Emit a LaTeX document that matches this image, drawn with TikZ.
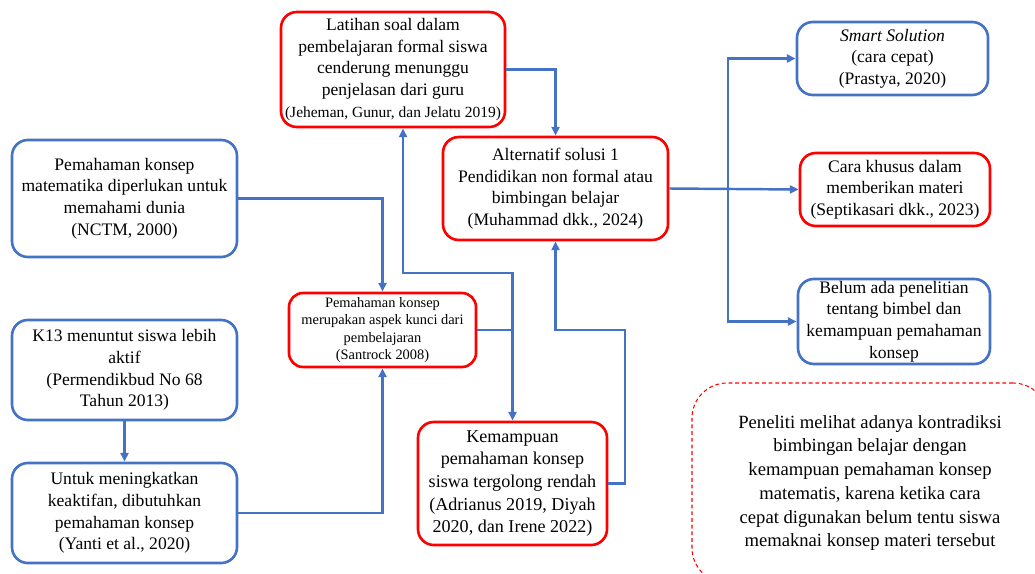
\documentclass[tikz,border=0pt]{standalone}
\usepackage{fontspec}
\setmainfont{Liberation Serif}
\usepackage{tikz}
\usetikzlibrary{arrows.meta}

\definecolor{lineblue}{HTML}{4472C4}
\definecolor{boxred}{HTML}{FF0000}

\tikzset{
  box/.style={draw, rounded corners=9pt, line width=1.5pt, align=center,
    inner sep=1pt, font=\fontsize{10}{12.3}\selectfont},
  redbox/.style={box, draw=boxred},
  bluebox/.style={box, draw=lineblue},
  arr/.style={draw=lineblue, line width=1.4pt, -{Triangle[length=5pt,width=4.5pt]}},
  ln/.style={draw=lineblue, line width=1.4pt}
}

\begin{document}
\begin{tikzpicture}
      \useasboundingbox (0, 0) rectangle (20.7, -11.46);
      % boxes in the middle
      \node[redbox, minimum width=4.48cm, minimum height=2.3cm] (latihan) at (7.86, -1.39)
        {Latihan soal dalam\\pembelajaran formal siswa\\cenderung menunggu\\penjelasan dari guru\\
         {\fontsize{8.8}{10}\selectfont (Jeheman, Gunur, dan Jelatu 2019)}};
      \node[redbox, minimum width=4.5cm, minimum height=2.06cm] (alt) at (11.11, -3.77)
        {Alternatif solusi 1\\Pendidikan non formal atau\\bimbingan belajar\\(Muhammad dkk., 2024)};
      \node[redbox, rounded corners=8pt, minimum width=3.74cm, minimum height=1.48cm,
        font=\fontsize{8.2}{9.9}\selectfont] (kunci) at (7.65, -6.6)
        {Pemahaman konsep\\merupakan aspek kunci dari\\pembelajaran\\(Santrock 2008)};
      \node[redbox, minimum width=3.78cm, minimum height=2.46cm,
        font=\fontsize{10.3}{12.9}\selectfont] (rendah) at (10.25, -9.67)
        {Kemampuan\\pemahaman konsep\\siswa tergolong rendah\\(Adrianus 2019, Diyah\\2020, dan Irene 2022)};

      % boxes on the left
      \node[bluebox, minimum width=4.5cm, minimum height=2.34cm] (nctm) at (2.49, -3.97)
        {Pemahaman konsep\\matematika diperlukan untuk\\memahami dunia\\(NCTM, 2000)};
      \node[bluebox, minimum width=4.5cm, minimum height=2cm] (k13) at (2.49, -7.4)
        {K13 menuntut siswa lebih\\aktif\\(Permendikbud No 68\\Tahun 2013)};
      \node[bluebox, minimum width=4.5cm, minimum height=2cm] (yanti) at (2.49, -10.26)
        {Untuk meningkatkan\\keaktifan, dibutuhkan\\pemahaman konsep\\(Yanti et al., 2020)};

      % boxes on the right
      \node[bluebox, minimum width=3.82cm, minimum height=1.46cm] (smart) at (17.85, -1.17)
        {\textit{Smart Solution}\\(cara cepat)\\(Prastya, 2020)};
      \node[redbox, minimum width=3.8cm, minimum height=1.46cm] (khusus) at (17.9, -3.79)
        {Cara khusus dalam\\memberikan materi\\(Septikasari dkk., 2023)};
      \node[bluebox, minimum width=3.84cm, minimum height=1.7cm] (belum) at (17.88, -6.43)
        {Belum ada penelitian\\tentang bimbel dan\\kemampuan pemahaman\\konsep};
      \node[draw=boxred, line width=0.6pt, dash pattern=on 2.2pt off 1.6pt, rounded corners=20pt,
        align=center, minimum width=7.12cm, minimum height=4cm,
        font=\fontsize{10.6}{13.5}\selectfont] (peneliti) at (17.4, -9.66)
        {Peneliti melihat adanya kontradiksi\\bimbingan belajar dengan\\kemampuan pemahaman konsep\\matematis, karena ketika cara\\cepat digunakan belum tentu siswa\\memaknai konsep materi tersebut};

      % connectors
      \coordinate (split) at (14.56, -3.77);
      \coordinate (jn) at (10.25, -5.46);
      \coordinate (kb) at (12.5, -6.6);
      \draw[arr] (latihan.east) -| (alt.north);
      \draw[arr] (alt.east) -- (khusus.west);
      \draw[arr] (split) |- (smart.west);
      \draw[arr] (split) |- (belum.west);
      \draw[arr] (nctm.east) -| (kunci.north);
      \draw[arr] (k13.south) -- (yanti.north);
      \draw[arr] (yanti.east) -| (kunci.south);
      \draw[arr] (kunci.east) -| (rendah.north);
      \draw[arr] (kunci.east -| rendah.north) -- (jn) -| ([xshift=0.2cm]latihan.south);
      \draw[arr] (rendah.east) -| (kb) -| (alt.south);
    \end{tikzpicture}
\end{document}
